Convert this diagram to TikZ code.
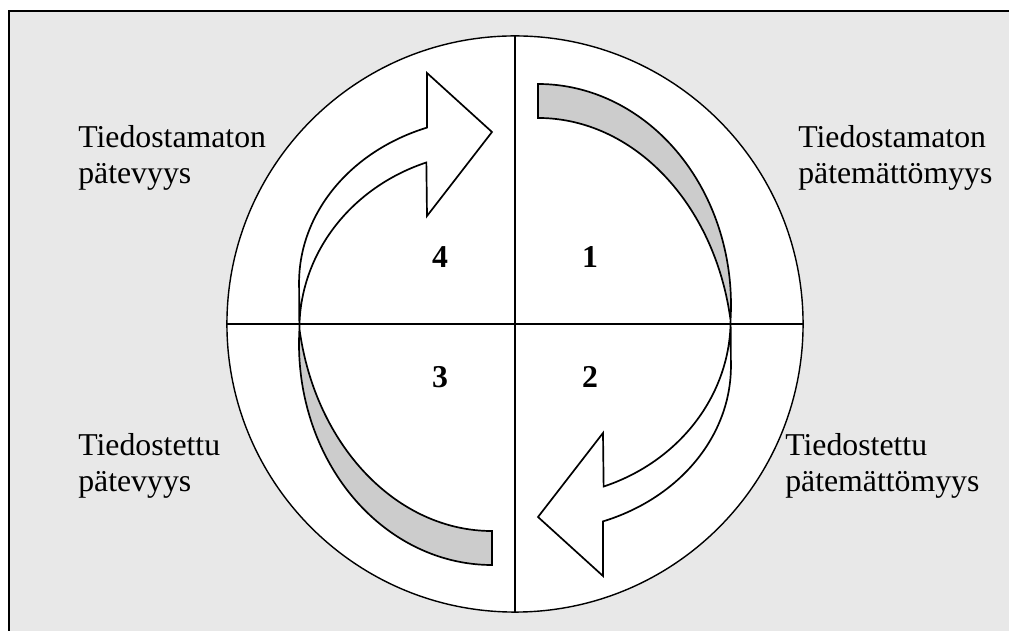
\documentclass[tikz,border=0pt]{standalone}
\usepackage{fontspec}
\setmainfont{Liberation Serif}
\usetikzlibrary{positioning}
\definecolor{taustaharmaa}{RGB}{232,232,232}
\definecolor{nurjaharmaa}{RGB}{204,204,204}

% one curved arrow: grey back side, then white front side with head
\newcommand{\kaarinuoli}{%
  \path[nurja] (538,547) arc[start angle=90, end angle=-3.9, x radius=193, y radius=221]
    arc[start angle=9.5, end angle=90, x radius=195.3, y radius=242] -- cycle;
  \path[oikea] (730.6,311) arc[start angle=0, end angle=-70.2, x radius=192, y radius=177]
    -- (603,198) -- (538,114) -- (603,55) -- (603,109.6)
    arc[start angle=-70.3, end angle=0, x radius=193, y radius=165] -- cycle;
}

\begin{document}
\begin{tikzpicture}[x=0.025cm, y=0.025cm,
    teksti/.style={anchor=base west, inner sep=0pt, align=left, font=\fontsize{22.6}{25.6}\selectfont},
    numero/.style={anchor=base, inner sep=0pt, font=\fontsize{22.6}{25.6}\selectfont\bfseries},
    nurja/.style={draw, fill=nurjaharmaa, line width=1.2pt, line join=miter},
    oikea/.style={draw, fill=white, line width=1.2pt, line join=miter}
]
\useasboundingbox (0,0) rectangle (1009,631);
\fill[taustaharmaa] (9,0) rectangle (1009,620);
\draw[line width=1.4pt] (9,0) -- (9,620) -- (1009,620);

\node[circle, draw, fill=white, line width=1pt, inner sep=0pt, outer sep=0pt, minimum size=14.4cm] (ympyra) at (515,307) {};
\draw[line width=1pt] (ympyra.north) -- (ympyra.south);
\draw[line width=1pt] (ympyra.west) -- (ympyra.east);

\kaarinuoli
\begin{scope}[rotate around={180:(515,306.5)}]
  \kaarinuoli
\end{scope}

\node[numero] (n4) at (440,363) {4};
\node[numero] (n1) at (590,363) {1};
\node[numero] (n3) at (440,243) {3};
\node[numero] (n2) at (590,243) {2};

% base anchor sits on the last line
\node[teksti] (tp) at (78,447) {Tiedostamaton\\pätevyys};
\node[teksti] (tpm) at (798,447) {Tiedostamaton\\pätemättömyys};
\node[teksti] (dp) at (78,139) {Tiedostettu\\pätevyys};
\node[teksti] (dpm) at (785,139) {Tiedostettu\\pätemättömyys};
\end{tikzpicture}
\end{document}
